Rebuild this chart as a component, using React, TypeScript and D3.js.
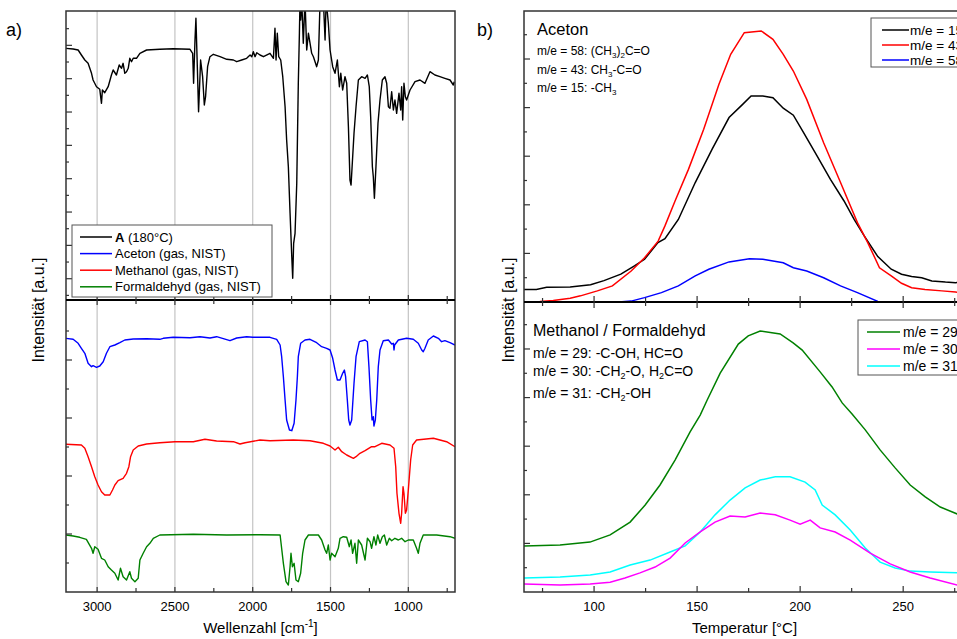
import React from 'react';
import * as d3 from 'd3';

type P = [number, number];

// ---------- IR spectra (x: Wellenzahl cm^-1, y: arbitrary intensity) ----------
const irSampleA: P[] = [
  [3202,251.7],[3154,251],[3122,250],[3101,245],[3079,240],[3058,236.7],[3036,226.7],[3026,220],[3004,213.3],
  [2983,210.7],[2972,196.7],[2966,210],[2951,207.3],[2929,213.3],[2908,225],[2897,230],[2876,225],[2858,235],
  [2843,231.7],[2833,236.7],[2822,226.7],[2811,228.3],[2800,231.7],[2790,241.7],[2779,238.3],[2768,241.7],
  [2747,241.7],[2725,246.7],[2682,250],[2597,250.7],[2511,251.3],[2403,250.7],[2386,246.7],[2380,216.7],
  [2371,260],[2365,281.7],[2356,233.3],[2348,188.3],[2339,223.3],[2335,240],[2322,223.3],[2311,195],
  [2303,203.3],[2290,233.3],[2275,243.3],[2253,245.7],[2210,243.3],[2167,240.7],[2124,240],[2103,238.3],
  [2071,240],[2039,241.7],[2017,245],[2006,243.3],[1996,248.3],[1985,243.3],[1974,247.3],[1953,245],
  [1931,243.3],[1889,246.7],[1867,241.7],[1857,271.7],[1850,240],[1842,266.7],[1833,243.3],[1820,240],
  [1807,223.3],[1792,193.3],[1782,160],[1771,133.3],[1760,86.7],[1749,43.3],[1743,21.7],[1737,56.7],
  [1728,66.7],[1717,116.7],[1707,216.7],[1700,266.7],[1696,300],[1692,280],[1685,300],[1675,256.7],
  [1664,300],[1653,250],[1642,266.7],[1621,246.7],[1610,243.3],[1589,233.3],[1578,240],[1567,300],
  [1546,300],[1535,260],[1528,300],[1514,276.7],[1503,250],[1486,233.3],[1471,226.7],[1456,240],
  [1443,213.3],[1434,226.7],[1422,210],[1407,223.3],[1396,216.7],[1385,173.3],[1375,120],[1368,115],
  [1360,136.7],[1349,166.7],[1336,193.3],[1321,220],[1300,223.3],[1278,221.7],[1263,225],[1251,213.3],
  [1242,183.3],[1231,133.3],[1225,123.3],[1218,101.7],[1208,133.3],[1195,176.7],[1182,200],[1167,220],
  [1150,223.3],[1139,216.7],[1128,193.3],[1118,191.7],[1107,208.3],[1096,190],[1086,200],[1075,186.7],
  [1060,206.7],[1049,190],[1043,213.3],[1036,180],[1028,216.7],[1019,203.3],[1011,200],[989,210],
  [957,218.3],[925,220],[893,216.7],[861,228.3],[829,225],[797,223.3],[765,221.7],[732,220],[711,215],[705,218.3]
];

const irAceton: P[] = [
  [3202,253.7],[3154,252.7],[3122,248.7],[3101,243.7],[3079,238.7],[3058,228.7],[3036,225.3],[3026,226.3],
  [3004,224.7],[2983,226],[2961,230.3],[2940,238.7],[2918,245.3],[2886,247],[2854,249.3],[2822,252],
  [2768,253],[2682,253.3],[2597,252.7],[2575,253.7],[2511,254.7],[2403,254.3],[2339,255.3],[2275,254],
  [2232,255.3],[2146,251.3],[2103,254],[2039,255.3],[2000,254.7],[1889,254.7],[1846,252.7],[1824,247],
  [1814,235.3],[1803,215.3],[1792,192],[1782,172],[1764,162],[1749,161.3],[1734,168.7],[1722,192],
  [1713,215.3],[1707,235.3],[1692,248.7],[1664,252],[1632,252.7],[1589,249.3],[1557,245.3],[1525,243.7],
  [1503,242],[1486,233.7],[1471,222],[1456,212],[1439,212],[1422,218.7],[1411,222],[1403,215.3],
  [1392,192],[1383,172],[1375,167],[1364,172],[1349,208.7],[1336,235.3],[1315,250.3],[1278,252],
  [1263,250.3],[1253,225.3],[1242,192],[1233,172],[1225,175.3],[1221,166],[1212,172],[1203,192],
  [1193,225.3],[1182,242],[1161,251.3],[1128,252],[1107,248],[1096,248.7],[1092,242],[1088,247],
  [1064,252],[1011,253.7],[968,252.7],[936,248.7],[914,242],[904,240.3],[893,243.7],[872,252],
  [839,256],[807,253.7],[786,250.3],[765,251.3],[732,249.3],[700,247]
];

const irMethanol: P[] = [
  [3202,147.7],[3101,147],[3079,143.7],[3058,135.3],[3036,125.3],[3015,115.3],[2994,107],[2972,100.3],
  [2951,97],[2918,97],[2901,102],[2886,107],[2865,111.3],[2833,113.7],[2811,118.7],[2796,125.3],
  [2785,135.3],[2768,142],[2736,146],[2682,148],[2597,149.3],[2500,150.3],[2382,150.3],[2307,152.7],
  [2232,151],[2124,150.3],[2082,148],[2049,149.3],[1953,152],[1889,151.3],[1739,152],[1632,151.3],
  [1546,148.7],[1503,146],[1471,142],[1450,144.7],[1428,140.3],[1396,137],[1353,133.7],[1336,135.3],
  [1311,138.7],[1278,141.3],[1236,145.3],[1214,145.3],[1171,148.7],[1118,147],[1092,143.7],[1081,125.3],
  [1073,98.7],[1060,78.7],[1049,68.7],[1043,78.7],[1034,105.3],[1028,98.7],[1019,78.7],[1011,82],
  [1000,102],[985,132],[972,147],[947,152],[839,153.7],[754,150.3],[700,145.3]
];

const irFormaldehyd: P[] = [
  [3202,57],[3154,56],[3112,54.7],[3069,52.7],[3036,43.7],[3026,38.7],[3015,45.3],[2994,42.7],[2972,33.7],
  [2951,32],[2929,25.3],[2908,22],[2886,18.7],[2865,12],[2850,23.7],[2833,15.3],[2811,12],[2790,20.3],
  [2779,13.7],[2757,10.3],[2736,13.7],[2725,32],[2704,38.7],[2682,45.3],[2661,48.7],[2639,53.7],
  [2597,57],[2382,57.7],[2167,57],[1953,57.3],[1824,57],[1803,28.7],[1786,10.3],[1771,7],[1760,25.3],
  [1754,38.7],[1745,25.3],[1734,28.7],[1722,12],[1707,10.3],[1692,18.7],[1679,38.7],[1664,52],[1642,57],
  [1578,57],[1557,52],[1535,42],[1525,38.7],[1514,47],[1503,32],[1493,38.7],[1471,35.3],[1450,43.7],
  [1439,53.7],[1418,55.3],[1396,54.7],[1379,45.3],[1368,52],[1358,38.7],[1343,48.7],[1332,28.7],
  [1321,52],[1300,47],[1278,32],[1263,53.7],[1246,50.3],[1236,43.7],[1221,55.3],[1208,47],[1197,57],
  [1182,48.7],[1167,55.3],[1154,57],[1139,47],[1122,53.7],[1107,51.3],[1086,53.7],[1064,52],[1043,53.7],
  [1021,50.3],[1000,52],[968,52],[947,43.7],[936,38.7],[925,48.7],[904,57],[818,57],[732,55.3],[700,53.7]
];

// ---------- MS traces (x: Temperatur °C, y: intensity a.u.) ----------
const msAceton15: P[] = [
  [65.8,4.3],[72,4.3],[77,5.0],[88.4,5.1],[98.3,5.9],[104.8,7.3],[113,9.5],[119.6,12.3],[124.5,14.6],
  [131,20.3],[134.4,21.6],[140.9,28.2],[149.1,40.8],[157.3,52.2],[165.5,63],[172.1,67.5],[176.2,70.4],
  [181.9,70.4],[186.8,69.8],[191.8,66.2],[196.7,63.8],[201.6,57.9],[208.2,49.9],[214.7,41.9],[221.3,34.5],
  [226.2,28.2],[231.1,22.6],[237.7,15.5],[244.2,11.2],[249.2,9.5],[254.1,8.7],[259,8.3],[263.9,7.2],
  [270.5,6.8],[275.4,6.6],[278.9,6.8]
];
const msAceton43: P[] = [
  [65.8,0],[73.7,0.2],[80.2,0.5],[88.4,1.3],[93.4,2.1],[101.6,3.8],[108.9,5.5],[118,10.6],[124.5,15.1],
  [131.1,20.8],[134.4,26],[139.3,34.5],[145.8,45.3],[153.2,59],[160.6,74.4],[166.3,84.6],[172.9,92],
  [181.1,92.6],[186.8,89.7],[191.8,84.6],[196.7,78.9],[203.2,69.2],[211.4,54.4],[219.6,40.8],[227.8,27.1],
  [232.8,20.3],[238.5,11.7],[244.2,8.9],[249.2,6.4],[254.1,4.9],[260.6,4.3],[268.8,3.8],[275.4,3.4],[278.9,3.2]
];
const msAceton58: P[] = [
  [65.8,0],[112,0],[118,0.3],[124.5,1.5],[132.7,3.2],[140.9,5.5],[149.1,8.9],[155.7,11.2],[165.5,13.7],
  [175.4,14.8],[181.9,14.6],[191.8,13.4],[196.7,11.7],[203.2,10.6],[211.4,8.3],[219.6,5.5],[227.8,3.2],
  [237.7,0.2],[244.2,0],[278.9,0]
];
const msMeth29: P[] = [
  [66,15.9],[83.5,16.2],[98,17.2],[107.8,19.7],[117.5,24.1],[124.8,30],[132,36.9],[139.3,45.5],[146.6,55.2],
  [151.5,61],[154.9,66.2],[161.2,75.5],[170,85.5],[174.8,88.3],[180.6,90],[190.3,89],[196.6,85.9],[201,83.4],
  [209.7,75.9],[215.5,70.7],[220.4,65.2],[225.2,61.4],[231.6,55.9],[238.8,49],[246.1,42.8],[253.4,36.9],
  [260.7,32.8],[268,29.3],[276.2,26.9],[280,26]
];
const msMeth30: P[] = [
  [66,2.8],[83.5,2.4],[98.1,2.8],[107.8,3.4],[115,4.8],[122.3,6.6],[129.6,8.6],[136.9,11.7],[144.2,16.9],
  [151.5,20.7],[158.7,24.1],[166,26.2],[173.3,25.9],[180.6,27.2],[187.9,26.6],[195.1,24.8],[200,23.4],
  [204.9,24.8],[209.7,22.1],[217,20.7],[224.3,17.9],[234,13.4],[243.7,9.7],[253.4,6.9],[263.1,4.8],[276.2,2.4],[280,2.2]
];
const msMeth31: P[] = [
  [66,4.8],[83.5,5.2],[98.1,5.9],[107.8,6.9],[117.5,9.3],[127.2,11],[136.9,13.8],[144.2,15.9],[151.5,20.7],
  [158.7,26.6],[166,31.7],[173.3,35.9],[180.6,38.6],[187.9,39.7],[195.1,39.7],[202.4,37.9],[207.3,35.2],
  [210.7,30],[217,26.6],[224.3,21.4],[231.6,15.2],[238.8,10.3],[246.1,8.3],[253.4,7.2],[263.1,6.9],[276.2,6.6],[280,6.6]
];

const irMajorTicks = [3000, 2500, 2000, 1500, 1000];
const irMinorTicks = [2750, 2250, 1750, 1250, 750];
const tMajorTicks = [100, 150, 200, 250];
const tMinorTicks = [75, 125, 175, 225, 275];

const FONT = '"Liberation Sans", Arial, Helvetica, sans-serif';

export default function App() {
  const L = { x0: 66, x1: 455, top: 11, mid: 300, bot: 592 };
  const R = { x0: 524, x1: 965, top: 11, mid: 302, bot: 592 };

  const xIR = d3.scaleLinear().domain([3200, 700]).range([L.x0, L.x1]);
  const yIRup = d3.scaleLinear().domain([0, 289]).range([L.mid, L.top]);
  const yIRlo = d3.scaleLinear().domain([0, 292]).range([L.bot, L.mid]);
  const xT = d3.scaleLinear().domain([66, 280]).range([R.x0, R.x1]);
  const yMSup = d3.scaleLinear().domain([0, 99.4]).range([R.mid, R.top]);
  const yMSlo = d3.scaleLinear().domain([0, 100]).range([R.bot, R.mid]);

  const mk = (xs: d3.ScaleLinear<number, number>, ys: d3.ScaleLinear<number, number>) =>
    d3.line<P>().x(d => xs(d[0])).y(d => ys(d[1]));

  const irUpLine = mk(xIR, yIRup);
  const irLoLine = mk(xIR, yIRlo);
  const msUpLine = mk(xT, yMSup);
  const msLoLine = mk(xT, yMSlo);

  const luTicks = d3.range(1, 18).map(k => ({ y: yIRup(288 - 16.67 * k), major: k % 2 === 0 }));
  const llTicks = d3.range(1, 10).map(k => ({ y: yIRlo(29 * k), major: k % 2 === 0 }));
  const ruTicks = d3.range(1, 12).map(k => ({ y: yMSup(8.3 * k), major: k % 2 === 0 }));
  const rlTicks = d3.range(1, 12).map(k => ({ y: yMSlo(8.38 * k), major: k % 2 === 0 }));

  const frame = '#333';

  return (
    <svg width={957} height={639} style={{ position: 'absolute', left: 0, top: 0, background: '#fff' }} fontFamily={FONT}>
      <defs>
        <clipPath id="cLU"><rect x={L.x0} y={L.top} width={L.x1 - L.x0} height={L.mid - L.top} /></clipPath>
        <clipPath id="cLL"><rect x={L.x0} y={L.mid} width={L.x1 - L.x0} height={L.bot - L.mid} /></clipPath>
        <clipPath id="cRU"><rect x={R.x0} y={R.top} width={R.x1 - R.x0} height={R.mid - R.top} /></clipPath>
        <clipPath id="cRL"><rect x={R.x0} y={R.mid} width={R.x1 - R.x0} height={R.bot - R.mid} /></clipPath>
      </defs>
      <rect x={0} y={0} width={957} height={639} fill="#fff" />

      {/* ---------------- LEFT PANEL ---------------- */}
      {irMajorTicks.map(v => (
        <line key={'g' + v} x1={xIR(v)} x2={xIR(v)} y1={L.top} y2={L.bot} stroke="#c4c4c4" strokeWidth={1.2} />
      ))}

      <g clipPath="url(#cLU)">
        <path d={irUpLine(irSampleA) || ''} fill="none" stroke="#000" strokeWidth={1.4} strokeLinejoin="round" />
      </g>
      <g clipPath="url(#cLL)">
        <path d={irLoLine(irAceton) || ''} fill="none" stroke="#0000ff" strokeWidth={1.4} strokeLinejoin="round" />
        <path d={irLoLine(irMethanol) || ''} fill="none" stroke="#ff0000" strokeWidth={1.4} strokeLinejoin="round" />
        <path d={irLoLine(irFormaldehyd) || ''} fill="none" stroke="#008000" strokeWidth={1.4} strokeLinejoin="round" />
      </g>

      <rect x={L.x0} y={L.top} width={L.x1 - L.x0} height={L.bot - L.top} fill="none" stroke={frame} strokeWidth={1.5} />
      <line x1={L.x0} x2={L.x1} y1={L.mid} y2={L.mid} stroke="#000" strokeWidth={1.8} />

      {[...irMajorTicks.map(v => ({ v, len: 5 })), ...irMinorTicks.map(v => ({ v, len: 4 }))].map(t => (
        <g key={'xt' + t.v}>
          <line x1={xIR(t.v)} x2={xIR(t.v)} y1={L.bot} y2={L.bot - t.len} stroke={frame} strokeWidth={1.2} />
          <line x1={xIR(t.v)} x2={xIR(t.v)} y1={L.mid - t.len} y2={L.mid + t.len} stroke={frame} strokeWidth={1.2} />
        </g>
      ))}
      {irMajorTicks.map(v => (
        <text key={'xl' + v} x={xIR(v)} y={611} fontSize={13} textAnchor="middle" fill="#000">{v}</text>
      ))}
      {[...luTicks, ...llTicks].map((t, i) => (
        <line key={'ly' + i} x1={L.x0} x2={L.x0 + (t.major ? 6 : 3)} y1={t.y} y2={t.y} stroke={frame} strokeWidth={1.2} />
      ))}

      <rect x={72} y={225} width={200} height={72} fill="#fff" stroke="#555" strokeWidth={1} />
      {[
        { c: '#000', label: 'A', rest: ' (180°C)', bold: true },
        { c: '#0000ff', label: 'Aceton (gas, NIST)', rest: '', bold: false },
        { c: '#ff0000', label: 'Methanol (gas, NIST)', rest: '', bold: false },
        { c: '#008000', label: 'Formaldehyd (gas, NIST)', rest: '', bold: false },
      ].map((e, i) => {
        const cy = 237 + i * 16.6;
        return (
          <g key={'lg' + i}>
            <line x1={80} x2={112} y1={cy} y2={cy} stroke={e.c} strokeWidth={1.5} />
            <text x={115} y={cy + 4.6} fontSize={13} fill="#000">
              <tspan fontWeight={e.bold ? 'bold' : 'normal'}>{e.label}</tspan>
              {e.rest}
            </text>
          </g>
        );
      })}

      <text x={L.x0 + (L.x1 - L.x0) / 2} y={633} fontSize={15} textAnchor="middle" fill="#000">
        Wellenzahl [cm<tspan fontSize={10} dy={-6}>-1</tspan><tspan dy={6}>]</tspan>
      </text>
      <text transform="translate(44,310) rotate(-90)" fontSize={16} textAnchor="middle" fill="#000">Intensität [a.u.]</text>
      <text x={6} y={36} fontSize={18} fill="#000">a)</text>

      {/* ---------------- RIGHT PANEL ---------------- */}
      <g clipPath="url(#cRU)">
        <path d={msUpLine(msAceton58) || ''} fill="none" stroke="#0000ff" strokeWidth={1.5} />
        <path d={msUpLine(msAceton15) || ''} fill="none" stroke="#000" strokeWidth={1.5} />
        <path d={msUpLine(msAceton43) || ''} fill="none" stroke="#ff0000" strokeWidth={1.5} />
      </g>
      <g clipPath="url(#cRL)">
        <path d={msLoLine(msMeth29) || ''} fill="none" stroke="#008000" strokeWidth={1.5} />
        <path d={msLoLine(msMeth31) || ''} fill="none" stroke="#00ffff" strokeWidth={1.5} />
        <path d={msLoLine(msMeth30) || ''} fill="none" stroke="#ff00ff" strokeWidth={1.5} />
      </g>

      <rect x={R.x0} y={R.top} width={R.x1 - R.x0} height={R.bot - R.top} fill="none" stroke={frame} strokeWidth={1.5} />
      <line x1={R.x0} x2={R.x1} y1={R.mid} y2={R.mid} stroke="#000" strokeWidth={1.8} />

      {[...tMajorTicks.map(v => ({ v, len: 6 })), ...tMinorTicks.map(v => ({ v, len: 4 }))].map(t => (
        <g key={'tt' + t.v}>
          <line x1={xT(t.v)} x2={xT(t.v)} y1={R.bot} y2={R.bot - t.len} stroke={frame} strokeWidth={1.2} />
          <line x1={xT(t.v)} x2={xT(t.v)} y1={R.mid - t.len} y2={R.mid + t.len} stroke={frame} strokeWidth={1.2} />
        </g>
      ))}
      {tMajorTicks.map(v => (
        <text key={'tl' + v} x={xT(v)} y={611} fontSize={13} textAnchor="middle" fill="#000">{v}</text>
      ))}
      {[...ruTicks, ...rlTicks].map((t, i) => (
        <line key={'ry' + i} x1={R.x0} x2={R.x0 + (t.major ? 6 : 3)} y1={t.y} y2={t.y} stroke={frame} strokeWidth={1.2} />
      ))}

      <rect x={871} y={18} width={120} height={49} fill="#fff" stroke="#555" strokeWidth={1} />
      {[
        { c: '#000', label: 'm/e = 15' },
        { c: '#ff0000', label: 'm/e = 43' },
        { c: '#0000ff', label: 'm/e = 58' },
      ].map((e, i) => {
        const cy = 30 + i * 15;
        return (
          <g key={'ru' + i}>
            <line x1={882} x2={909} y1={cy} y2={cy} stroke={e.c} strokeWidth={1.5} />
            <text x={910} y={cy + 4.8} fontSize={13.5} fill="#000">{e.label}</text>
          </g>
        );
      })}
      <rect x={858} y={320} width={130} height={55} fill="#fff" stroke="#555" strokeWidth={1} />
      {[
        { c: '#008000', label: 'm/e = 29' },
        { c: '#ff00ff', label: 'm/e = 30' },
        { c: '#00ffff', label: 'm/e = 31' },
      ].map((e, i) => {
        const cy = 332 + i * 17;
        return (
          <g key={'rl' + i}>
            <line x1={867} x2={900} y1={cy} y2={cy} stroke={e.c} strokeWidth={1.5} />
            <text x={903} y={cy + 5} fontSize={14} fill="#000">{e.label}</text>
          </g>
        );
      })}

      <text x={537} y={35} fontSize={16.5} fill="#000">Aceton</text>
      <text x={537} y={55} fontSize={12} fill="#000">m/e = 58: (CH<tspan fontSize={8} dy={3}>3</tspan><tspan dy={-3}>)</tspan><tspan fontSize={8} dy={3}>2</tspan><tspan dy={-3}>C=O</tspan></text>
      <text x={537} y={74} fontSize={12} fill="#000">m/e = 43: CH<tspan fontSize={8} dy={3}>3</tspan><tspan dy={-3}>-C=O</tspan></text>
      <text x={537} y={91.5} fontSize={12} fill="#000">m/e = 15: -CH<tspan fontSize={8} dy={3}>3</tspan></text>

      <text x={533} y={336} fontSize={16} fill="#000">Methanol / Formaldehyd</text>
      <text x={533} y={358} fontSize={14} fill="#000">m/e = 29: -C-OH, HC=O</text>
      <text x={533} y={375.5} fontSize={14} fill="#000">m/e = 30: -CH<tspan fontSize={9} dy={3}>2</tspan><tspan dy={-3}>-O, H</tspan><tspan fontSize={9} dy={3}>2</tspan><tspan dy={-3}>C=O</tspan></text>
      <text x={533} y={398} fontSize={14} fill="#000">m/e = 31: -CH<tspan fontSize={9} dy={3}>2</tspan><tspan dy={-3}>-OH</tspan></text>

      <text x={(R.x0 + R.x1) / 2} y={633} fontSize={15} textAnchor="middle" fill="#000">Temperatur [°C]</text>
      <text transform="translate(514,310) rotate(-90)" fontSize={16} textAnchor="middle" fill="#000">Intensität [a.u.]</text>
      <text x={477} y={36} fontSize={18} fill="#000">b)</text>
    </svg>
  );
}
